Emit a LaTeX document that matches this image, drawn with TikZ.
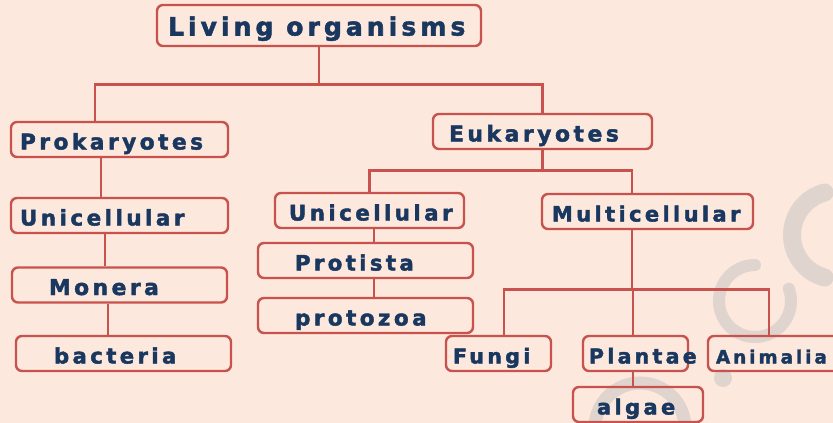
\documentclass[tikz,border=0pt]{standalone}
\usepackage{fontspec}
\setmainfont{DejaVu Sans}[LetterSpace=16, BoldFeatures={FakeBold=2}]
\definecolor{bgpeach}{RGB}{252,232,220}
\definecolor{linered}{RGB}{200,82,78}
\definecolor{textnavy}{RGB}{25,55,95}
\definecolor{markgrey}{RGB}{224,212,206}

\begin{document}
\begin{tikzpicture}[x=1pt, y=-1pt, line width=2.4pt]
% define styles
\tikzstyle{box}   = [draw=linered, rounded corners=6pt, minimum height=35pt,
                     inner xsep=0pt, inner ysep=0pt, text height=20pt, text depth=0pt,
                     text=textnavy]
\tikzstyle{link}  = [draw=linered, line width=2.6pt]
\tikzstyle{wmark} = [draw=markgrey, line cap=round]

% background
\fill[bgpeach] (0,0) rectangle (833,423);
\clip (0,0) rectangle (833,423);

% watermark
\draw[wmark, line width=18pt] (836,235) ++(105:44) arc (105:255:44);
\draw[wmark, line width=12pt] (755,301) ++(340:36) arc (340:630:36);
\fill[markgrey] (723,378) circle (9);
\draw[wmark, line width=13pt] (640,428) ++(180:45) arc (180:360:45);

% boxes
\node[box, minimum height=41pt, font=\bfseries\fontsize{25.1}{25}\selectfont]
    (liv) at (319,25.5) {\makebox[324pt][l]{\hspace*{11pt}Living organisms}};
\foreach \n/\x/\y/\w/\p/\s/\t in {pro/119.5/139.5/217/9/21.7/Prokaryotes,
        euk/542.5/131.5/219/16/21.9/Eukaryotes,
        uniL/119.5/215.5/217/9/21.5/Unicellular,
        mon/119.5/285/215/37/21.8/Monera,
        bac/123.5/353.5/215/38/21.2/bacteria,
        uniR/369.5/210.5/189/14/21.4/Unicellular,
        prot/365.5/260.5/215/37/21.2/Protista,
        zoa/365.5/315.5/215/37/21.5/protozoa,
        mul/647.5/211.5/211/10/21/Multicellular,
        fun/498.5/353.5/105/7/20.6/Fungi,
        pla/635.5/353.5/105/6/20.5/Plantae,
        ani/775.5/353.5/135/8/18.4/Animalia,
        alg/638/404.5/130/24/21/algae}
    \node[box, font=\bfseries\fontsize{\s}{\s}\selectfont]
        (\n) at (\x,\y) {\makebox[\w pt][l]{\hspace*{\p pt}\t}};

% branching links
\draw[link] (liv.south) -- ++(0,37) -| ([xshift=-24.5pt]pro.north);
\draw[link] (liv.south) ++(0,37) -| (euk.north);
\draw[link] (euk.south) -- ++(0,20) -| (uniR.north);
\draw[link] (euk.south) ++(0,20) -| ([xshift=-15.5pt]mul.north);
\draw[link] ([xshift=-15.5pt]mul.south) -- ++(0,59) -| ([xshift=5.5pt]fun.north);
\draw[link] ([xshift=-15.5pt]mul.south) ++(0,59) -| ([xshift=-2.5pt]pla.north);
\draw[link] ([xshift=-15.5pt]mul.south) ++(0,59) -| ([xshift=-6.5pt]ani.north);

% straight links
\foreach \from/\a/\to/\b in {pro/-18.5/uniL/-18.5, uniL/-14.5/mon/-14.5,
        mon/-11.5/bac/-15.5, uniR/4.5/prot/8.5, prot/8.5/zoa/8.5, pla/-2.5/alg/-5}
    \draw[link] ([xshift=\a pt]\from.south) -- ([xshift=\b pt]\to.north);

\end{tikzpicture}
\end{document}
